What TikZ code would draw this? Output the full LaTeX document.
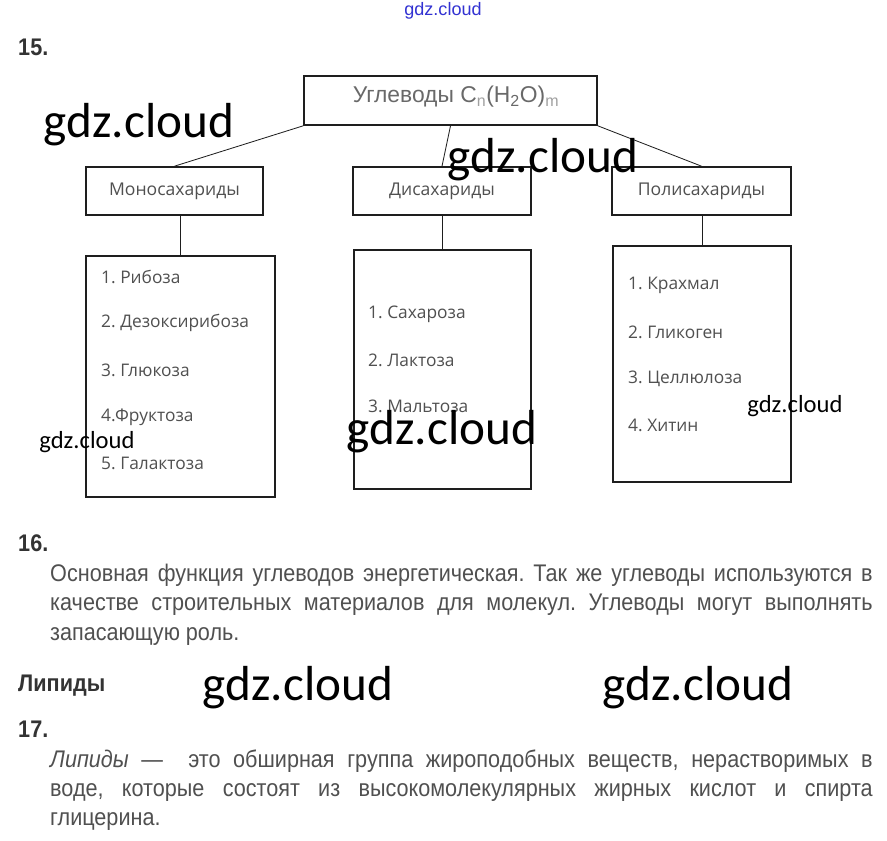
\documentclass[tikz,border=0pt]{standalone}
\usepackage{fontspec}
\setmainfont{Liberation Sans}
\newfontfamily\boxfont{Open Sans}
\newfontfamily\narrowfont[FakeStretch=0.9]{Liberation Sans}
\newfontfamily\wmfont{Carlito}
\usetikzlibrary{positioning}
\frenchspacing
\definecolor{cText}{RGB}{80,80,80}
\definecolor{cHead}{RGB}{105,105,105}
\definecolor{cSub}{RGB}{160,160,160}
\definecolor{cLine}{RGB}{30,30,30}
\definecolor{cMark}{RGB}{50,50,210}
\tikzset{
  box/.style={draw=cLine,line width=1.4pt,inner sep=0pt},
  label/.style={font=\boxfont\fontsize{15}{18}\selectfont,text=cText},
  item/.style={anchor=west,inner sep=0pt,font=\boxfont\fontsize{14.8}{18}\selectfont,text=cText},
  link/.style={draw=cLine,line width=0.7pt},
  para/.style={anchor=base west,inner sep=0pt,font=\narrowfont\fontsize{20.5}{24}\selectfont,text=cText},
  num/.style={anchor=base west,inner sep=0pt,font=\narrowfont\bfseries\fontsize{20.5}{24}\selectfont,text=black!80},
  wm/.style={inner sep=0pt,font=\wmfont\fontsize{42}{48}\selectfont,text=black},
  wmsmall/.style={inner sep=0pt,font=\wmfont\fontsize{21}{24}\selectfont,text=black}
}
\begin{document}
\begin{tikzpicture}[x=0.03cm,y=-0.03cm]
\useasboundingbox[fill=white] (0,0) rectangle (887,841);
\node[inner sep=0pt,font=\fontsize{15.4}{18}\selectfont,text=cMark] (mark) at (443,11) {gdz.cloud};
\node[num] (n15) at (18,55) {15.};
\node[box,minimum width=8.79cm,minimum height=1.47cm] (carb) at (450.5,100.5) {};
\node[font=\fontsize{19.5}{22}\selectfont,text=cHead] (carbtext) at (456,97) {Углеводы C\textsubscript{\textcolor{cSub}{n}}(H\textsubscript{2}O)\textsubscript{\textcolor{cSub}{m}}};
\node[box,minimum width=5.31cm,minimum height=1.44cm,label] (mono) at (174.5,191) {Моносахариды};
\node[box,minimum width=5.34cm,minimum height=1.44cm,label] (di) at (442,191) {Дисахариды};
\node[box,minimum width=5.37cm,minimum height=1.44cm,label] (poly) at (701.5,191) {Полисахариды};
\node[box,minimum width=5.67cm,minimum height=7.23cm] (monolist) at (180.5,376.5) {};
\node[box,minimum width=5.31cm,minimum height=7.17cm] (dilist) at (442.5,369.5) {};
\node[box,minimum width=5.34cm,minimum height=7.08cm] (polylist) at (702,364) {};
\draw[link] (carb.south west) -- (mono.north);
\draw[link] (carb.south) -- (di.north);
\draw[link] (carb.south east) -- (poly.north);
\draw[link] (monolist.north |- mono.south) -- (monolist.north);
\draw[link] (dilist.north |- di.south) -- (dilist.north);
\draw[link] (polylist.north |- poly.south) -- (polylist.north);
\node[item] (m1) at (101,277) {1. Рибоза};
\node[item] (m2) at (101,323) {2. Дезоксирибоза};
\node[item] (m3) at (101,370) {3. Глюкоза};
\node[item] (m4) at (101,417) {4.Фруктоза};
\node[item] (m5) at (101,463) {5. Галактоза};
\node[item] (d1) at (368,314) {1. Сахароза};
\node[item] (d2) at (368,360) {2. Лактоза};
\node[item] (d3) at (368,406) {3. Мальтоза};
\node[item] (p1) at (628,285) {1. Крахмал};
\node[item] (p2) at (628,332) {2. Гликоген};
\node[item] (p3) at (628,379) {3. Целлюлоза};
\node[item] (p4) at (628,425) {4. Хитин};
\node[num] (n16) at (18,551) {16.};
\node[para] (t16a) at (50,581) {\makebox[702pt][s]{Основная функция углеводов энергетическая. Так же углеводы используются в}};
\node[para] (t16b) at (50,610) {\makebox[702pt][s]{качестве строительных материалов для молекул. Углеводы могут выполнять}};
\node[para] (t16c) at (50,640) {запасающую роль.};
\node[num] (lip) at (18,691) {Липиды};
\node[num] (n17) at (18,737) {17.};
\node[para] (t17a) at (50,767) {\makebox[702pt][s]{\textit{Липиды} —\ \ это обширная группа жироподобных веществ, нерастворимых в}};
\node[para] (t17b) at (50,796) {\makebox[702pt][s]{воде, которые состоят из высокомолекулярных жирных кислот и спирта}};
\node[para] (t17c) at (50,825) {глицерина.};
\node[wm] (wm1) at (139,125) {gdz.cloud};
\node[wm] (wm2) at (543,160) {gdz.cloud};
\node[wm] (wm3) at (442,432) {gdz.cloud};
\node[wm] (wm4) at (298,688) {gdz.cloud};
\node[wm] (wm5) at (698,688) {gdz.cloud};
\node[wmsmall] (wm6) at (87,442) {gdz.cloud};
\node[wmsmall] (wm7) at (795,406) {gdz.cloud};
\end{tikzpicture}
\end{document}
